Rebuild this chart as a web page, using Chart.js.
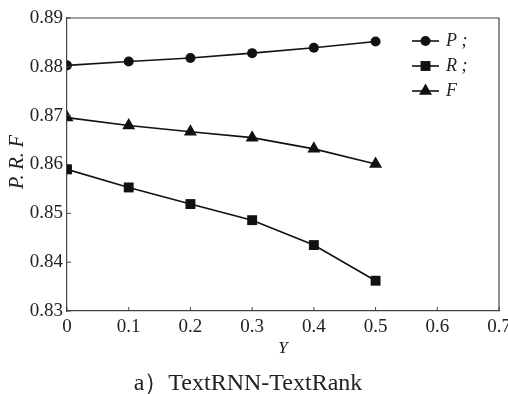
<!DOCTYPE html>
<html>
<head>
<meta charset="utf-8">
<script src="https://cdn.jsdelivr.net/npm/chart.js@4"></script>
<style>
  html, body { margin: 0; padding: 0; background: #fff; }
  #wrap { width: 508px; height: 394px; position: relative; }
</style>
</head>
<body>
<div id="wrap"><canvas id="chart"></canvas></div>
<script>
// data
const yValues = [0, 0.1, 0.2, 0.3, 0.4, 0.5];
const pValues = [0.8803, 0.8811, 0.8818, 0.8828, 0.8839, 0.8852];
const rValues = [0.8590, 0.8553, 0.8519, 0.8486, 0.8435, 0.8362];
const fValues = [0.8696, 0.8680, 0.8667, 0.8655, 0.8632, 0.8601];
const seriesNames = ["P", "R", "F"];
const seriesMarks = ["circle", "rect", "triangle"];
const markSizes = [5, 7, 7.5];
const caption = "a）TextRNN-TextRank";

const serif = "'Liberation Serif', 'Times New Roman', serif";
const axisColor = "#444";

const toPoints = vals => vals.map((v, i) => ({ x: yValues[i], y: v }));

const datasets = [pValues, rValues, fValues].map((vals, i) => ({
  label: seriesNames[i],
  data: toPoints(vals),
  borderColor: "#111",
  backgroundColor: "#111",
  borderWidth: 1.6,
  pointStyle: seriesMarks[i],
  pointRadius: markSizes[i],
  pointBorderWidth: 0,
  tension: 0
}));

// frame, inward ticks, titles, legend, caption
const decorPlugin = {
  id: "decor",
  afterDraw(chart) {
    const { ctx, chartArea: a, scales } = chart;
    ctx.save();
    ctx.strokeStyle = axisColor;
    ctx.lineWidth = 1.2;
    ctx.beginPath();
    ctx.moveTo(a.left, a.top);
    ctx.lineTo(a.right, a.top);
    ctx.lineTo(a.right, a.bottom);
    ctx.stroke();

    ctx.lineWidth = 1;
    ctx.beginPath();
    scales.x.ticks.forEach(t => {
      const px = scales.x.getPixelForValue(t.value);
      ctx.moveTo(px, a.bottom);
      ctx.lineTo(px, a.bottom - 4);
    });
    scales.y.ticks.forEach(t => {
      const py = scales.y.getPixelForValue(t.value);
      ctx.moveTo(a.left, py);
      ctx.lineTo(a.left + 4, py);
    });
    ctx.stroke();

    // axis titles
    ctx.fillStyle = "#222";
    ctx.font = "italic 17px " + serif;
    ctx.textAlign = "center";
    ctx.textBaseline = "middle";
    ctx.fillText("Y", 283, 349);
    ctx.save();
    ctx.translate(18, 162);
    ctx.rotate(-Math.PI / 2);
    ctx.font = "italic 20px " + serif;
    ctx.fillText("P. R. F", 0, 0);
    ctx.restore();

    // legend
    const labels = ["P ;", "R ;", "F"];
    chart.data.datasets.forEach((ds, i) => {
      const ly = 41 + i * 25;
      ctx.strokeStyle = "#111";
      ctx.lineWidth = 1.6;
      ctx.beginPath();
      ctx.moveTo(412, ly);
      ctx.lineTo(439, ly);
      ctx.stroke();
      ctx.fillStyle = "#111";
      Chart.helpers.drawPoint(ctx, {
        pointStyle: ds.pointStyle,
        radius: ds.pointRadius,
        rotation: 0,
        borderWidth: 0
      }, 425.5, ly);
      ctx.fillStyle = "#222";
      ctx.font = "italic 18px " + serif;
      ctx.textAlign = "left";
      ctx.fillText(labels[i], 446, ly);
    });

    // caption
    ctx.fillStyle = "#222";
    ctx.font = "24px " + serif;
    ctx.textAlign = "center";
    ctx.textBaseline = "alphabetic";
    ctx.fillText(caption, 248, 390);
    ctx.restore();
  }
};

new Chart(document.getElementById("chart"), {
  type: "line",
  data: { datasets },
  options: {
    responsive: true,
    maintainAspectRatio: false,
    animation: false,
    layout: { padding: { top: 18, right: 9, left: 0, bottom: 0 } },
    plugins: { legend: { display: false }, tooltip: { enabled: false } },
    scales: {
      x: {
        type: "linear",
        min: 0,
        max: 0.7,
        afterFit: s => { s.height = 83; s.paddingRight = 0; s.paddingLeft = 0; },
        grid: { display: false, drawTicks: false },
        border: { display: true, color: axisColor, width: 1.2 },
        ticks: {
          stepSize: 0.1,
          padding: 5,
          color: "#222",
          font: { family: serif, size: 19 },
          callback: v => +v.toFixed(1)
        }
      },
      y: {
        min: 0.83,
        max: 0.89,
        afterFit: s => { s.width = 67; s.paddingTop = 0; s.paddingBottom = 0; },
        grid: { display: false, drawTicks: false },
        border: { display: true, color: axisColor, width: 1.2 },
        ticks: {
          stepSize: 0.01,
          padding: 4,
          color: "#222",
          font: { family: serif, size: 19 },
          callback: v => v.toFixed(2)
        }
      }
    }
  },
  plugins: [decorPlugin]
});
</script>
</body>
</html>
